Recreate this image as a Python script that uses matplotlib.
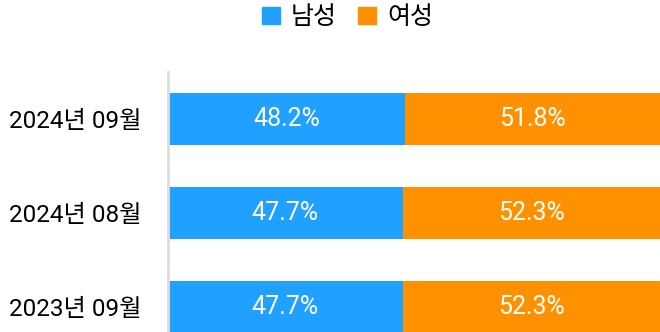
import matplotlib
matplotlib.use('Agg')
import matplotlib.pyplot as plt
from matplotlib.patches import Patch

plt.rcParams['font.family'] = ['Roboto', 'Noto Sans CJK KR', 'DejaVu Sans']

# survey periods, top to bottom
periods = ['2024년 09월', '2024년 08월', '2023년 09월']
male = [48.2, 47.7, 47.7]
female = [51.8, 52.3, 52.3]
series_names = ['남성', '여성']

c_male = '#21A1FF'
c_female = '#FF9100'

fig = plt.figure(figsize=(6.6, 3.32), dpi=100, facecolor='white')
ax = fig.add_axes([168 / 660, 1 - 354 / 332, 1 - 168 / 660, 282 / 332])

ypos = list(range(len(periods)))
ax.barh(ypos, male, height=0.55, color=c_male, linewidth=0)
ax.barh(ypos, female, left=male, height=0.55, color=c_female, linewidth=0)

for i in ypos:
    ax.text(male[i] / 2, i, '%.1f%%' % male[i], ha='center', va='center',
            color='white', fontsize=18)
    ax.text(male[i] + female[i] / 2, i, '%.1f%%' % female[i], ha='center',
            va='center', color='white', fontsize=18)

ax.set_xlim(0, 100)
ax.set_ylim(len(periods) - 0.5, -0.5)
ax.set_yticks(ypos)
ax.set_yticklabels(periods, fontsize=17.5, color='black')
ax.set_xticks([])
ax.tick_params(axis='y', length=0, pad=19)
for s in ['top', 'right', 'bottom']:
    ax.spines[s].set_visible(False)
ax.spines['left'].set_color('#DDDDDD')
ax.spines['left'].set_linewidth(2)

handles = [Patch(color=c_male), Patch(color=c_female)]
fig.legend(handles, series_names, loc='center', bbox_to_anchor=(0.527, 0.948),
           ncol=2, frameon=False,
           prop={'size': 18, 'weight': 'medium',
                 'family': ['Noto Sans CJK KR', 'DejaVu Sans']},
           handlelength=0.7, handleheight=0.7, handletextpad=0.45,
           columnspacing=0.85)

fig.savefig('out.png', dpi=100, facecolor='white')
